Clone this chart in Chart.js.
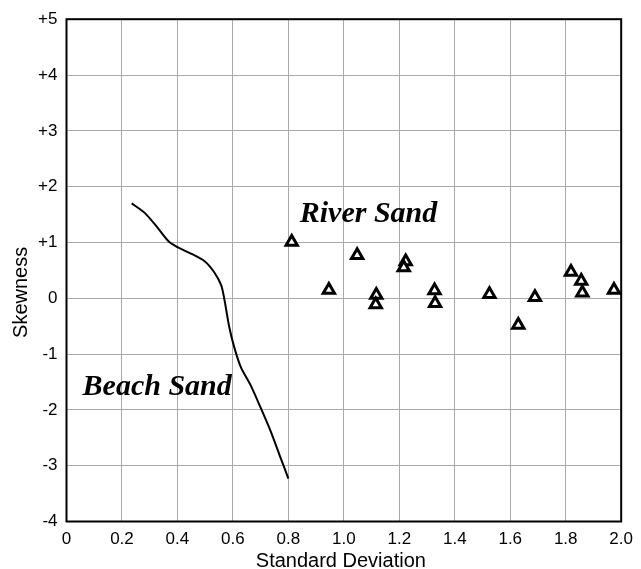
<!DOCTYPE html>
<html>
<head>
<meta charset="utf-8">
<script src="https://cdn.jsdelivr.net/npm/chart.js@4.4.1/dist/chart.umd.min.js"></script>
<style>
  html, body { margin: 0; padding: 0; background: #fff; }
  #wrap { width: 641px; height: 569px; }
</style>
</head>
<body>
<div id="wrap"><canvas id="chart" width="641" height="569"></canvas></div>
<script>
/* ---------- data ---------- */
const beachSD   = [0.235, 0.282, 0.326, 0.368, 0.398, 0.445, 0.499, 0.532, 0.558, 0.570, 0.587, 0.605, 0.629, 0.665, 0.700, 0.736, 0.772, 0.800];
const beachSkew = [1.70, 1.53, 1.28, 1.02, 0.92, 0.81, 0.66, 0.47, 0.23, -0.04, -0.52, -0.88, -1.24, -1.57, -1.96, -2.38, -2.86, -3.23];

const riverSD   = [0.812, 0.946, 1.048, 1.117, 1.115, 1.223, 1.216, 1.327, 1.329, 1.525, 1.629, 1.689, 1.819, 1.856, 1.860, 1.974];
const riverSkew = [1.01, 0.15, 0.77, 0.06, -0.11, 0.66, 0.55, 0.14, -0.09, 0.07, -0.48, 0.02, 0.47, 0.31, 0.10, 0.15];

const xTicks = [0, 0.2, 0.4, 0.6, 0.8, 1.0, 1.2, 1.4, 1.6, 1.8, 2.0];
const yTicks = [-4, -3, -2, -1, 0, 1, 2, 3, 4, 5];

const labels = [
  { text: "River Sand", x: 0.841, y: 1.37 },
  { text: "Beach Sand", x: 0.058, y: -1.74 },
];

const xTitle = "Standard Deviation";
const yTitle = "Skewness";

/* ---------- helpers ---------- */
const SANS = '"Liberation Sans", Arial, sans-serif';
const SERIF = '"Liberation Serif", "Times New Roman", serif';
const zip = (xs, ys) => xs.map((x, i) => ({ x, y: ys[i] }));

// frame, axis titles and the two italic labels
const extras = {
  id: "extras",
  beforeDatasetsDraw(chart) {
    const { ctx, chartArea: a } = chart;
    ctx.save();
    ctx.strokeStyle = "#000";
    ctx.lineWidth = 2;
    ctx.strokeRect(a.left, a.top, a.right - a.left, a.bottom - a.top);
    ctx.restore();
  },
  afterDraw(chart) {
    const { ctx, chartArea: a, scales } = chart;
    ctx.save();
    ctx.fillStyle = "#000";

    ctx.font = `20px ${SANS}`;
    ctx.textAlign = "center";
    ctx.textBaseline = "alphabetic";
    ctx.fillText(xTitle, (a.left + a.right) / 2 - 3, 567);

    ctx.translate(27, (a.top + a.bottom) / 2 + 22);
    ctx.rotate(-Math.PI / 2);
    ctx.fillText(yTitle, 0, 0);
    ctx.setTransform(1, 0, 0, 1, 0, 0);

    ctx.font = `bold italic 30px ${SERIF}`;
    ctx.textAlign = "left";
    labels.forEach((l) => {
      ctx.fillText(l.text, scales.x.getPixelForValue(l.x), scales.y.getPixelForValue(l.y));
    });
    ctx.restore();
  },
};

/* ---------- chart ---------- */
new Chart(document.getElementById("chart"), {
  type: "scatter",
  data: {
    datasets: [
      {
        label: "Beach Sand",
        data: zip(beachSD, beachSkew),
        showLine: true,
        borderColor: "#000",
        borderWidth: 2,
        tension: 0.25,
        pointRadius: 0,
      },
      {
        label: "River Sand",
        data: zip(riverSD, riverSkew),
        pointStyle: "triangle",
        pointRadius: 6.5,
        pointBorderWidth: 3,
        pointBorderColor: "#000",
        pointBackgroundColor: "#fff",
      },
    ],
  },
  options: {
    responsive: false,
    animation: false,
    layout: { padding: { top: 18, right: 15, left: 0, bottom: 0 } },
    plugins: { legend: { display: false }, tooltip: { enabled: false } },
    scales: {
      x: {
        type: "linear",
        min: 0, max: 2,
        afterBuildTicks: (s) => { s.ticks = xTicks.map((v) => ({ value: v })); },
        afterFit: (s) => { s.height = 47.5; },
        grid: { color: "#aaaaaa", lineWidth: 1, drawTicks: false },
        border: { display: false },
        ticks: {
          color: "#000",
          font: { family: SANS, size: 17 },
          padding: 8,
          maxRotation: 0,
          autoSkip: false,
          callback: (v) => (v === 0 ? "0" : Number(v).toFixed(1)),
        },
      },
      y: {
        type: "linear",
        min: -4, max: 5,
        afterBuildTicks: (s) => { s.ticks = yTicks.map((v) => ({ value: v })); },
        afterFit: (s) => { s.width = 66.5; },
        grid: { color: "#aaaaaa", lineWidth: 1, drawTicks: false },
        border: { display: false },
        ticks: {
          color: "#000",
          font: { family: SANS, size: 17 },
          padding: 9,
          autoSkip: false,
          callback: (v) => (v > 0 ? "+" + v : String(v)),
        },
      },
    },
  },
  plugins: [extras],
});
</script>
</body>
</html>
